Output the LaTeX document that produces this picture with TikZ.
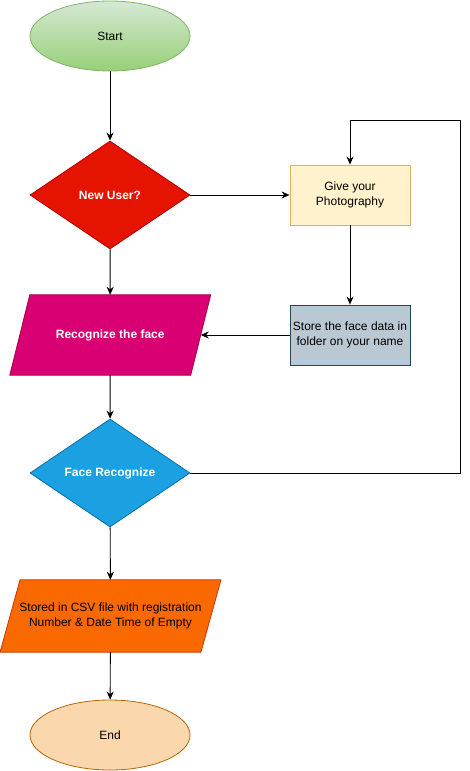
\documentclass[tikz,border=0pt]{standalone}
\usepackage{fontspec}
\setmainfont{Liberation Sans}
\usetikzlibrary{shapes.geometric,arrows.meta}

\pgfdeclarelayer{background}
\pgfsetlayers{background,main}

\definecolor{startfill}{HTML}{D5E8D4}
\definecolor{startshade}{HTML}{97D077}
\definecolor{startline}{HTML}{82B366}
\definecolor{userfill}{HTML}{E51400}
\definecolor{userline}{HTML}{B20000}
\definecolor{photofill}{HTML}{FFF2CC}
\definecolor{photoline}{HTML}{D6B656}
\definecolor{storefill}{HTML}{BAC8D3}
\definecolor{storeline}{HTML}{23445D}
\definecolor{recogfill}{HTML}{D80073}
\definecolor{recogline}{HTML}{A50040}
\definecolor{facefill}{HTML}{1BA1E2}
\definecolor{faceline}{HTML}{006EAF}
\definecolor{csvfill}{HTML}{FA6800}
\definecolor{csvline}{HTML}{C73500}
\definecolor{endfill}{HTML}{FAD7AC}
\definecolor{endline}{HTML}{B46504}

\tikzstyle{label font}=[font=\fontsize{12}{14.5}\selectfont, align=center]
\tikzstyle{bold font}=[font=\fontsize{12}{14.5}\selectfont\bfseries, align=center, text=white]
\tikzstyle{terminal}=[ellipse, label font, line width=0.8pt, minimum width=160pt, minimum height=70pt, inner sep=0pt]
\tikzstyle{decision}=[diamond, bold font, line width=0.8pt, minimum width=160pt, minimum height=108pt, inner sep=0pt]
\tikzstyle{process}=[rectangle, label font, line width=0.8pt, minimum width=120pt, minimum height=60pt, inner sep=1pt]
\tikzstyle{data}=[rectangle, label font, inner sep=0pt]
\tikzstyle{data shape}=[line width=0.8pt]
\tikzstyle{edge}=[draw, line width=0.9pt, -{Stealth[length=8pt,width=7pt,inset=2.5pt]}]

% parallelogram behind a text node: name, colours
\newcommand{\slantbox}[3]{
    \begin{pgfonlayer}{background}
        \path[data shape, draw=#2, fill=#3] ([xshift=-10pt]#1.south west) -- ([xshift=10pt]#1.north west)
            -- ([xshift=10pt]#1.north east) -- ([xshift=-10pt]#1.south east) -- cycle;
    \end{pgfonlayer}
}

\begin{document}
\begin{tikzpicture}[x=1pt,y=-1pt]
    \useasboundingbox (0,0) rectangle (469,771);
    \node[terminal, draw=startline, top color=startfill, bottom color=startshade] (start) at (110,36) {Start};
    \node[decision, draw=userline, fill=userfill] (newuser) at (110,195) {New User?};
    \node[process, draw=photoline, fill=photofill] (photo) at (350,195) {Give your\\Photography};
    \node[process, draw=storeline, fill=storefill] (store) at (350,335) {Store the face data in\\folder on your name};
    \node[data, bold font, minimum width=180.5pt, minimum height=80pt] (recog) at (110.25,335) {Recognize the face};
    \slantbox{recog}{recogline}{recogfill}
    \node[decision, draw=faceline, fill=facefill] (face) at (110,473) {Face Recognize};
    \node[data, minimum width=200.5pt, minimum height=72pt] (csv) at (110.5,616) {Stored in CSV file with registration\\Number \& Date Time of Empty};
    \slantbox{csv}{csvline}{csvfill}
    \node[terminal, draw=endline, fill=endfill] (end) at (110,735) {End};
    \coordinate (loop) at (460,120);
    \foreach \source/\dest in {start/newuser, newuser/photo, photo/store, store/recog,
                               newuser/recog, recog/face, face/csv, csv/end}
        \path[edge] (\source) -- (\dest);
    \path[edge] (face.east) -| (loop) -| (photo.north);
\end{tikzpicture}
\end{document}
